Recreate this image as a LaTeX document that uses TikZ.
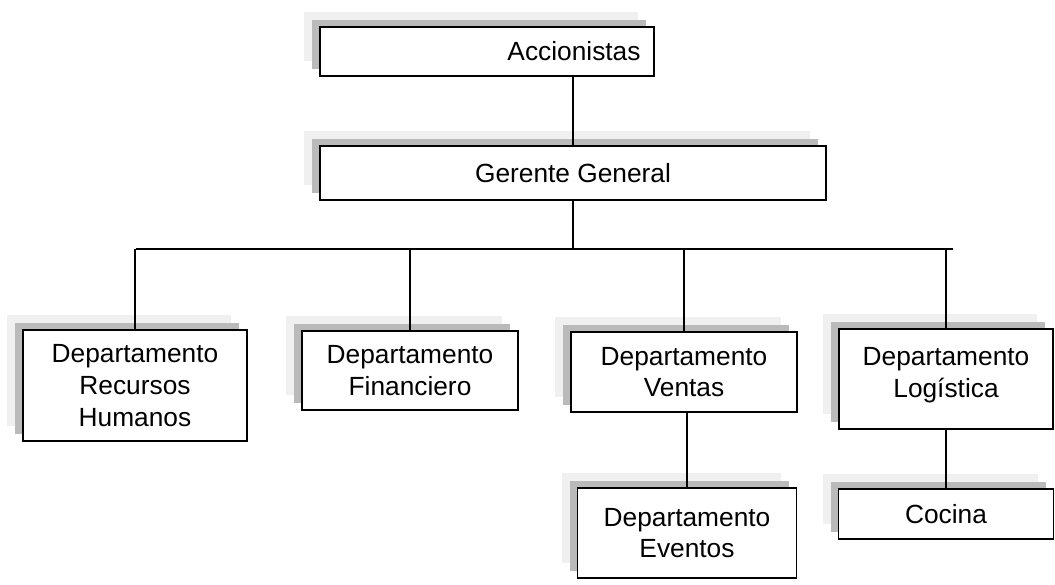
\documentclass[tikz,border=0pt]{standalone}
\usepackage{fontspec}
\setmainfont{Liberation Sans}
\usetikzlibrary{shadows}

\begin{document}
\begin{tikzpicture}[
		x=1pt, y=-1pt,
		line width=1.3pt,
		orgbox/.style={draw, fill=white, line width=1.5pt, align=center, inner sep=0pt,
			font=\fontsize{26.3}{31.6}\selectfont,
			general shadow={fill=black!6, shadow xshift=-16pt, shadow yshift=15pt},
			general shadow={fill=black!27, shadow xshift=-8pt, shadow yshift=7pt}}
		]
		\useasboundingbox (0,0) rectangle (1055,584);
		
		% Top levels
		\node[orgbox, minimum width=334pt, minimum height=49pt] (acc) at (487,51.5) {\hspace*{174pt}Accionistas};
		\node[orgbox, minimum width=506pt, minimum height=54pt] (ger) at (573,173) {Gerente General};
		
		% Departments
		\node[orgbox, minimum width=224pt, minimum height=111pt] (rrhh) at (135,385.5) {Departamento\\Recursos\\Humanos};
		\node[orgbox, minimum width=216pt, minimum height=79pt] (fin) at (410,370.5) {Departamento\\Financiero};
		\node[orgbox, minimum width=226pt, minimum height=80pt] (ven) at (684,372) {Departamento\\Ventas};
		\node[orgbox, minimum width=214pt, minimum height=100pt, text depth=13pt] (log) at (946,379) {Departamento\\Logística};
		
		% Sub-departments
		\node[orgbox, minimum width=219pt, minimum height=90pt] (eve) at (687,533) {Departamento\\Eventos};
		\node[orgbox, minimum width=215pt, minimum height=50pt] (coc) at (946,514) {Cocina};
		
		% Lines
		\coordinate (busL) at (136,249);
		\coordinate (busR) at (953,249);
		\draw (ger.north |- acc.south) -- (ger.north);
		\draw (ger.south) -- (ger.south |- busL);
		\draw (busL) -- (busR);
		\foreach \d in {rrhh,fin,ven,log}
			\draw (busL -| \d.north) -- (\d.north);
		\draw (eve.north |- ven.south) -- (eve.north);
		\draw (coc.north |- log.south) -- (coc.north);
		
	\end{tikzpicture}
\end{document}
